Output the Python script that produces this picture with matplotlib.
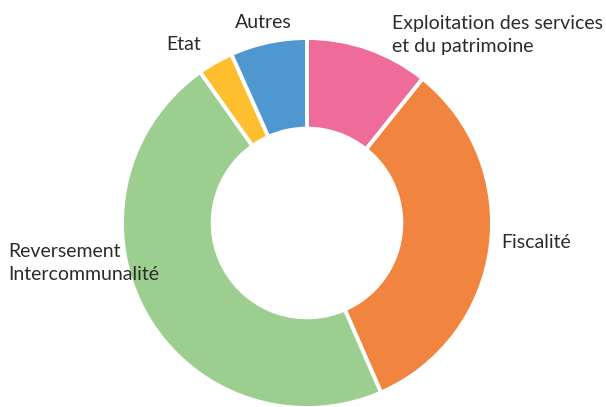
import matplotlib
matplotlib.use("Agg")
import matplotlib.pyplot as plt

categories = ["Exploitation des services\net du patrimoine", "Fiscalité",
              "Reversement\nIntercommunalité", "Etat", "Autres"]
values = [10.75, 32.7, 46.75, 3.1, 6.7]
colors = ["#EF6B9A", "#F1843F", "#9CCF8F", "#FFBE2E", "#4F97D1"]

W, H = 606, 407
fig = plt.figure(figsize=(W / 100, H / 100), dpi=100)
ax = fig.add_axes([0, 0, 1, 1])

cx, cy, R = 307, H - 223, 185
ax.pie(values, colors=colors, startangle=90, counterclock=False,
       center=(cx, cy), radius=R, frame=True,
       wedgeprops=dict(width=R * 0.49, edgecolor="white", linewidth=2.8))
ax.set_xlim(0, W)
ax.set_ylim(0, H)
ax.set_aspect("equal")
ax.axis("off")

label_pos = [(392, H - 35), (501, H - 243), (8, H - 263), (166, H - 45), (235, H - 22)]
for cat, (x, y) in zip(categories, label_pos):
    ax.text(x, y, cat, ha="left", va="center", fontsize=14, family="Lato",
            color="#2b2b2b", linespacing=1.45)

fig.savefig("out.png", dpi=100)
